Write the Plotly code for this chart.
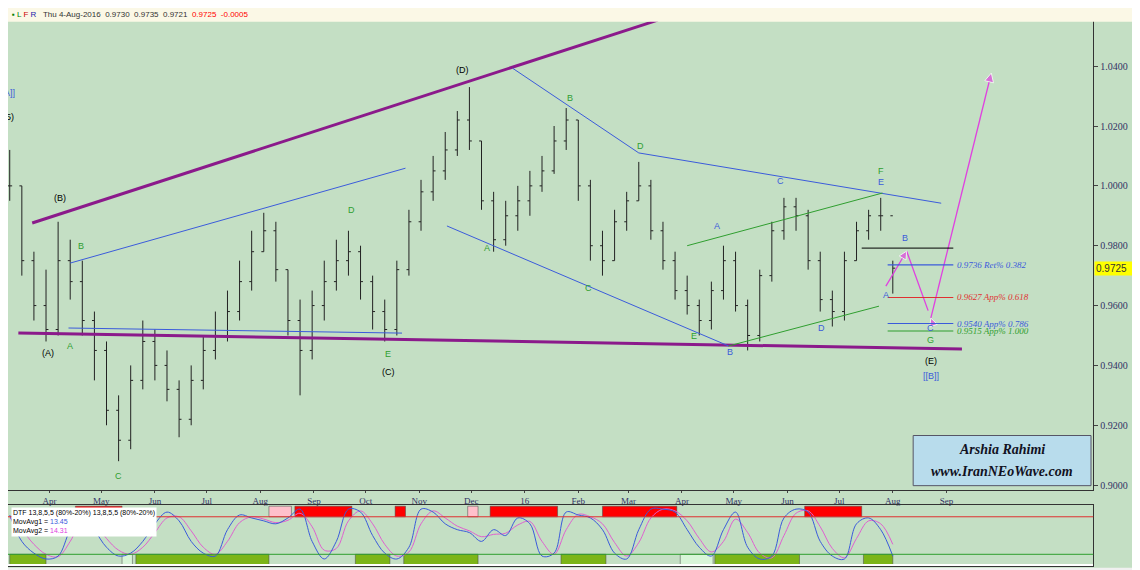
import pandas as pd
import plotly.graph_objects as go

closes = [1.000,0.975,0.960,0.952,0.975,0.968,0.955,0.945,0.925,0.915,0.935,0.948,0.940,0.932,0.922,0.935,0.945,0.950,0.958,0.968,0.978,0.985,0.972,0.955,0.945,0.960,0.968,0.975,0.978,0.968,0.958,0.952,0.972,0.988,0.998,1.005,1.012,1.022,1.015,0.995,0.982,0.990,0.995,1.000,1.005,1.015,1.022,1.000,0.980,0.975,0.988,0.995,1.000,0.985,0.975,0.965,0.960,0.955,0.965,0.975,0.960,0.950,0.970,0.985,0.993,0.990,0.975,0.962,0.958,0.975,0.985,0.990,0.990,0.9725]
highs = [1.012,1.000,0.978,0.972,0.988,0.982,0.975,0.958,0.948,0.930,0.940,0.955,0.952,0.945,0.935,0.940,0.950,0.958,0.965,0.975,0.985,0.991,0.988,0.972,0.962,0.965,0.975,0.982,0.985,0.980,0.970,0.962,0.975,0.992,1.002,1.010,1.018,1.025,1.033,1.015,0.998,0.995,1.000,1.005,1.010,1.020,1.026,1.022,1.002,0.985,0.992,0.998,1.008,1.002,0.988,0.978,0.970,0.962,0.968,0.980,0.978,0.962,0.972,0.988,0.996,0.996,0.992,0.978,0.965,0.978,0.988,0.992,0.996,0.975]
lows = [0.995,0.970,0.955,0.948,0.950,0.962,0.950,0.935,0.920,0.908,0.912,0.932,0.935,0.928,0.916,0.920,0.932,0.942,0.948,0.955,0.965,0.978,0.968,0.950,0.930,0.942,0.955,0.965,0.970,0.962,0.952,0.948,0.950,0.970,0.985,0.995,1.002,1.010,1.012,0.992,0.978,0.980,0.985,0.990,0.998,1.004,1.012,0.995,0.975,0.970,0.975,0.985,0.995,0.982,0.972,0.962,0.957,0.950,0.952,0.962,0.958,0.945,0.948,0.968,0.982,0.985,0.972,0.958,0.953,0.955,0.975,0.982,0.985,0.964]
osc_fast = [85,40,20,10,15,60,90,60,30,15,20,40,70,90,75,40,20,15,60,85,80,75,70,80,95,40,10,40,95,90,50,20,10,30,95,90,70,60,55,40,60,50,80,70,15,20,90,85,80,60,20,10,60,95,95,90,60,30,15,60,90,30,10,15,80,95,90,40,15,10,70,80,60,15]
osc_slow = [80,60,35,18,14,40,75,72,45,25,18,30,55,80,82,58,30,18,40,72,82,78,72,76,88,65,25,28,75,92,70,35,15,22,70,92,80,66,58,48,52,54,68,74,40,18,60,86,82,70,38,15,38,80,95,92,75,45,22,40,78,55,20,12,50,88,92,65,28,12,45,75,70,35]

n = min(len(closes), len(highs), len(lows), len(osc_fast), len(osc_slow))
dates = pd.date_range("2015-03-09", periods=n, freq="7D")
opens = [closes[0]] + closes[:n-1]

trend_lines = [
    ("2015-03-22", 0.9876, "2016-03-18", 1.0554, "#8b1a8b", 3),
    ("2015-03-14", 0.9508, "2016-09-10", 0.9455, "#8b1a8b", 3),
    ("2015-04-13", 0.9742, "2015-10-24", 1.0059, "#3b5bdb", 1),
    ("2015-04-12", 0.9525, "2015-10-22", 0.9508, "#3b5bdb", 1),
    ("2015-11-17", 0.9866, "2016-04-28", 0.9465, "#3b5bdb", 1),
    ("2015-12-25", 1.0393, "2016-03-07", 1.0110, "#3b5bdb", 1),
    ("2016-03-07", 1.0110, "2016-08-29", 0.9942, "#3b5bdb", 1),
    ("2016-04-04", 0.9800, "2016-07-26", 0.9976, "#2f9e2f", 1),
    ("2016-04-28", 0.9465, "2016-07-24", 0.9598, "#2f9e2f", 1),
]
proj_x = ["2016-07-28", "2016-08-09", "2016-08-23", "2016-09-27"]
proj_y = [0.9665, 0.9782, 0.9558, 1.0377]

levels = [0.9736, 0.9627, 0.9540, 0.9515]
level_colors = ["#3b5bdb", "#e03131", "#3b5bdb", "#2f9e2f"]
level_texts = ["0.9736 Ret% 0.382", "0.9627 App% 0.618", "0.9540 App% 0.786", "0.9515 App% 1.000"]

wave_labels = [
    ("A]]", "2015-03-09", 1.031, "#3b5bdb"), ("5)", "2015-03-09", 1.023, "black"),
    ("(A)", "2015-03-31", 0.944, "black"), ("(B)", "2015-04-07", 0.996, "black"),
    ("B", "2015-04-19", 0.980, "#2f9e2f"), ("A", "2015-04-13", 0.9465, "#2f9e2f"),
    ("C", "2015-05-11", 0.903, "#2f9e2f"), ("D", "2015-09-23", 0.992, "#2f9e2f"),
    ("E", "2015-10-14", 0.9438, "#2f9e2f"), ("(C)", "2015-10-14", 0.9378, "black"),
    ("(D)", "2015-11-26", 1.0387, "black"), ("A", "2015-12-10", 0.9792, "#2f9e2f"),
    ("B", "2016-01-27", 1.0293, "#2f9e2f"), ("C", "2016-02-07", 0.9658, "#2f9e2f"),
    ("D", "2016-03-08", 1.0133, "#2f9e2f"), ("E", "2016-04-08", 0.9498, "#2f9e2f"),
    ("A", "2016-04-21", 0.9866, "#3b5bdb"), ("B", "2016-04-29", 0.9445, "#3b5bdb"),
    ("C", "2016-05-28", 1.0016, "#3b5bdb"), ("D", "2016-06-21", 0.9525, "#3b5bdb"),
    ("F", "2016-07-25", 1.0049, "#2f9e2f"), ("E", "2016-07-25", 1.0013, "#3b5bdb"),
    ("B", "2016-08-08", 0.9826, "#3b5bdb"), ("A", "2016-07-28", 0.9635, "#3b5bdb"),
    ("C", "2016-08-23", 0.9525, "#3b5bdb"), ("G", "2016-08-23", 0.9485, "#2f9e2f"),
    ("(E)", "2016-08-23", 0.9415, "black"), ("[[B]]", "2016-08-23", 0.9365, "#3b5bdb"),
]

red_zones = [("2015-04-16", "2015-05-13", "red"), ("2015-08-06", "2015-08-19", "pink"),
             ("2015-08-21", "2015-09-23", "red"), ("2015-10-18", "2015-10-24", "red"),
             ("2015-11-29", "2015-12-05", "pink"), ("2015-12-12", "2016-01-20", "red"),
             ("2016-02-15", "2016-03-29", "red"), ("2016-06-11", "2016-07-14", "red")]
green_zones = [("2015-03-09", "2015-03-30", "#7cb518"), ("2015-05-13", "2015-05-19", "#d8f5d8"),
               ("2015-05-21", "2015-08-06", "#7cb518"), ("2015-09-25", "2015-10-15", "#7cb518"),
               ("2015-10-23", "2015-12-05", "#7cb518"), ("2016-01-22", "2016-02-17", "#7cb518"),
               ("2016-03-31", "2016-04-19", "#d8f5d8"), ("2016-04-20", "2016-06-08", "#7cb518"),
               ("2016-07-15", "2016-08-01", "#7cb518")]

month_ticks = ["2015-04-01","2015-05-01","2015-06-01","2015-07-01","2015-08-01","2015-09-01","2015-10-01",
               "2015-11-01","2015-12-01","2016-01-01","2016-02-01","2016-03-01","2016-04-01","2016-05-01",
               "2016-06-01","2016-07-01","2016-08-01","2016-09-01"]
month_text = ["Apr","May","Jun","Jul","Aug","Sep","Oct","Nov","Dec","16","Feb","Mar","Apr","May","Jun","Jul","Aug","Sep"]

BG = "#c4dfc4"
fig = go.Figure()
fig.add_trace(go.Ohlc(x=dates, open=opens[:n], high=highs[:n], low=lows[:n], close=closes[:n],
                      increasing_line_color="#222", decreasing_line_color="#222", line_width=1,
                      tickwidth=0.2, xaxis="x", yaxis="y", showlegend=False))
for x0, y0, x1, y1, c, w in trend_lines:
    fig.add_trace(go.Scatter(x=[x0, x1], y=[y0, y1], mode="lines", line=dict(color=c, width=w),
                             showlegend=False, hoverinfo="skip"))
fig.add_trace(go.Scatter(x=proj_x, y=proj_y, mode="lines+markers", line=dict(color="#e040e0", width=1.3),
                         marker=dict(symbol=["circle", "arrow-up", "arrow-down", "arrow-up"], size=[1, 8, 8, 9],
                                     angleref="previous", color="#e040e0"), showlegend=False))
fig.add_trace(go.Scatter(x=["2016-07-14", "2016-09-05"], y=[0.9792, 0.9792], mode="lines",
                         line=dict(color="black", width=1), showlegend=False))
for lv, c, t in zip(levels, level_colors, level_texts):
    fig.add_trace(go.Scatter(x=["2016-07-29", "2016-09-05"], y=[lv, lv], mode="lines",
                             line=dict(color=c, width=1.2), showlegend=False))
    fig.add_annotation(x="2016-09-06", y=lv, text=f"<i>{t}</i>", showarrow=False, xanchor="left",
                       font=dict(family="Liberation Serif", size=9, color=c))
for t, x, y, c in wave_labels:
    fig.add_annotation(x=x, y=y, text=t, showarrow=False, font=dict(family="Arial", size=9, color=c))

fig.add_trace(go.Scatter(x=dates, y=osc_slow[:n], mode="lines", line=dict(color="#e060d0", width=1, shape="spline"),
                         xaxis="x2", yaxis="y2", showlegend=False))
fig.add_trace(go.Scatter(x=dates, y=osc_fast[:n], mode="lines", line=dict(color="#3b5bdb", width=1, shape="spline"),
                         xaxis="x2", yaxis="y2", showlegend=False))
shapes = []
for a, b, c in red_zones:
    shapes.append(dict(type="rect", xref="x2", yref="y2", x0=a, x1=b, y0=82, y1=100, fillcolor=c,
                       line=dict(color="#444", width=0.5), layer="below"))
for a, b, c in green_zones:
    shapes.append(dict(type="rect", xref="x2", yref="y2", x0=a, x1=b, y0=0, y1=18, fillcolor=c,
                       line=dict(color="#444", width=0.5), layer="below"))
shapes.append(dict(type="line", xref="x2 domain", yref="y2", x0=0, x1=1, y0=82, y1=82, line=dict(color="#e03131", width=1)))
shapes.append(dict(type="line", xref="x2 domain", yref="y2", x0=0, x1=1, y0=18, y1=18, line=dict(color="#2f9e2f", width=1)))
shapes.append(dict(type="rect", xref="paper", yref="paper", x0=0, x1=1, y0=0.976, y1=1, fillcolor="#fbf8e6", line_width=0))
shapes.append(dict(type="rect", xref="paper", yref="paper", x0=0, x1=1, y0=0, y1=0.018, fillcolor="#f0f0f0", line_width=0))
shapes.append(dict(type="rect", xref="paper", yref="paper", x0=0.794, x1=0.950, y0=0.162, y1=0.25,
                   fillcolor="#b8dcec", line=dict(color="#556", width=1)))

fig.add_annotation(xref="paper", yref="paper", x=0.872, y=0.226, xanchor="center", yanchor="middle",
                   text="<b><i>Arshia Rahimi</i></b>", showarrow=False,
                   font=dict(family="Liberation Serif", size=14, color="#112"))
fig.add_annotation(xref="paper", yref="paper", x=0.872, y=0.186, xanchor="center", yanchor="middle",
                   text="<b><i>www.IranNEoWave.com</i></b>", showarrow=False,
                   font=dict(family="Liberation Serif", size=14, color="#112"))
fig.add_annotation(xref="paper", yref="paper", x=0.002, y=0.9995, xanchor="left", yanchor="top", showarrow=False,
                   text="<span style='color:green'>▪ L</span> <span style='color:#c00'>F</span> <span style='color:#22a'>R</span>   Thu 4-Aug-2016  0.9730  0.9735  0.9721  <span style='color:red'>0.9725  -0.0005</span>",
                   font=dict(family="Liberation Sans", size=8, color="#333"))
fig.add_annotation(xref="paper", yref="y", x=0.953, y=closes[n-1], text="0.9725", xanchor="left", showarrow=False,
                   bgcolor="#ffff00", font=dict(family="Liberation Sans", size=10, color="#333"), width=50, align="left")
fig.add_annotation(xref="paper", yref="paper", x=0.003, y=0.124, xanchor="left", yanchor="top", showarrow=False,
                   align="left", bgcolor="white",
                   text="DTF 13,8,5,5 (80%-20%) 13,8,5,5 (80%-20%)<br>MovAvg1 = <span style='color:#3b5bdb'>13.45</span><br>MovAvg2 = <span style='color:#e040e0'>14.31</span>",
                   font=dict(family="Liberation Sans", size=7, color="black"))
fig.add_annotation(xref="paper", yref="paper", x=0.003, y=0.001, xanchor="left", yanchor="bottom", showarrow=False,
                   text="\\ Vol 2 /MAOSC 12,26,1 /MAOSC 6,13,1 /ROC 12 [Ratio] /Hist Vol 50%, 10 6 40 /CCI 13 /RSI 14,62 (75%-25%) /DTStoch 13,3,3,5 (70%-30%) /DTF 13,8,5,5 (80%-20%) 13,8,5,5 (80%-20%) /",
                   font=dict(family="Liberation Sans", size=6, color="#333"))

xr = ["2015-03-08", "2016-11-25"]
fig.update_layout(
    width=1140, height=570, margin=dict(l=0, r=0, t=0, b=0),
    paper_bgcolor=BG, plot_bgcolor=BG, shapes=shapes, showlegend=False,
    xaxis=dict(domain=[0, 0.952], range=xr, showgrid=False, rangeslider=dict(visible=False),
               tickvals=month_ticks, ticktext=month_text, ticks="outside", ticklen=2,
               tickfont=dict(family="Liberation Serif", size=9, color="#336"), showline=True, linecolor="#333"),
    yaxis=dict(domain=[0.154, 0.982], range=[0.8983, 1.056], side="right", showgrid=False, dtick=0.02,
               tickformat=".4f", ticks="outside", ticklen=4, tickfont=dict(family="Liberation Serif", size=10, color="#336"),
               showline=True, linecolor="#333"),
    xaxis2=dict(domain=[0, 0.952], range=xr, anchor="y2", showticklabels=False, showgrid=False,
                showline=True, linecolor="#333", mirror=True),
    yaxis2=dict(domain=[0.021, 0.128], range=[-2, 102], side="right", showticklabels=False, showgrid=False,
                showline=True, linecolor="#333", mirror=True),
)
fig.write_html("out.html")
